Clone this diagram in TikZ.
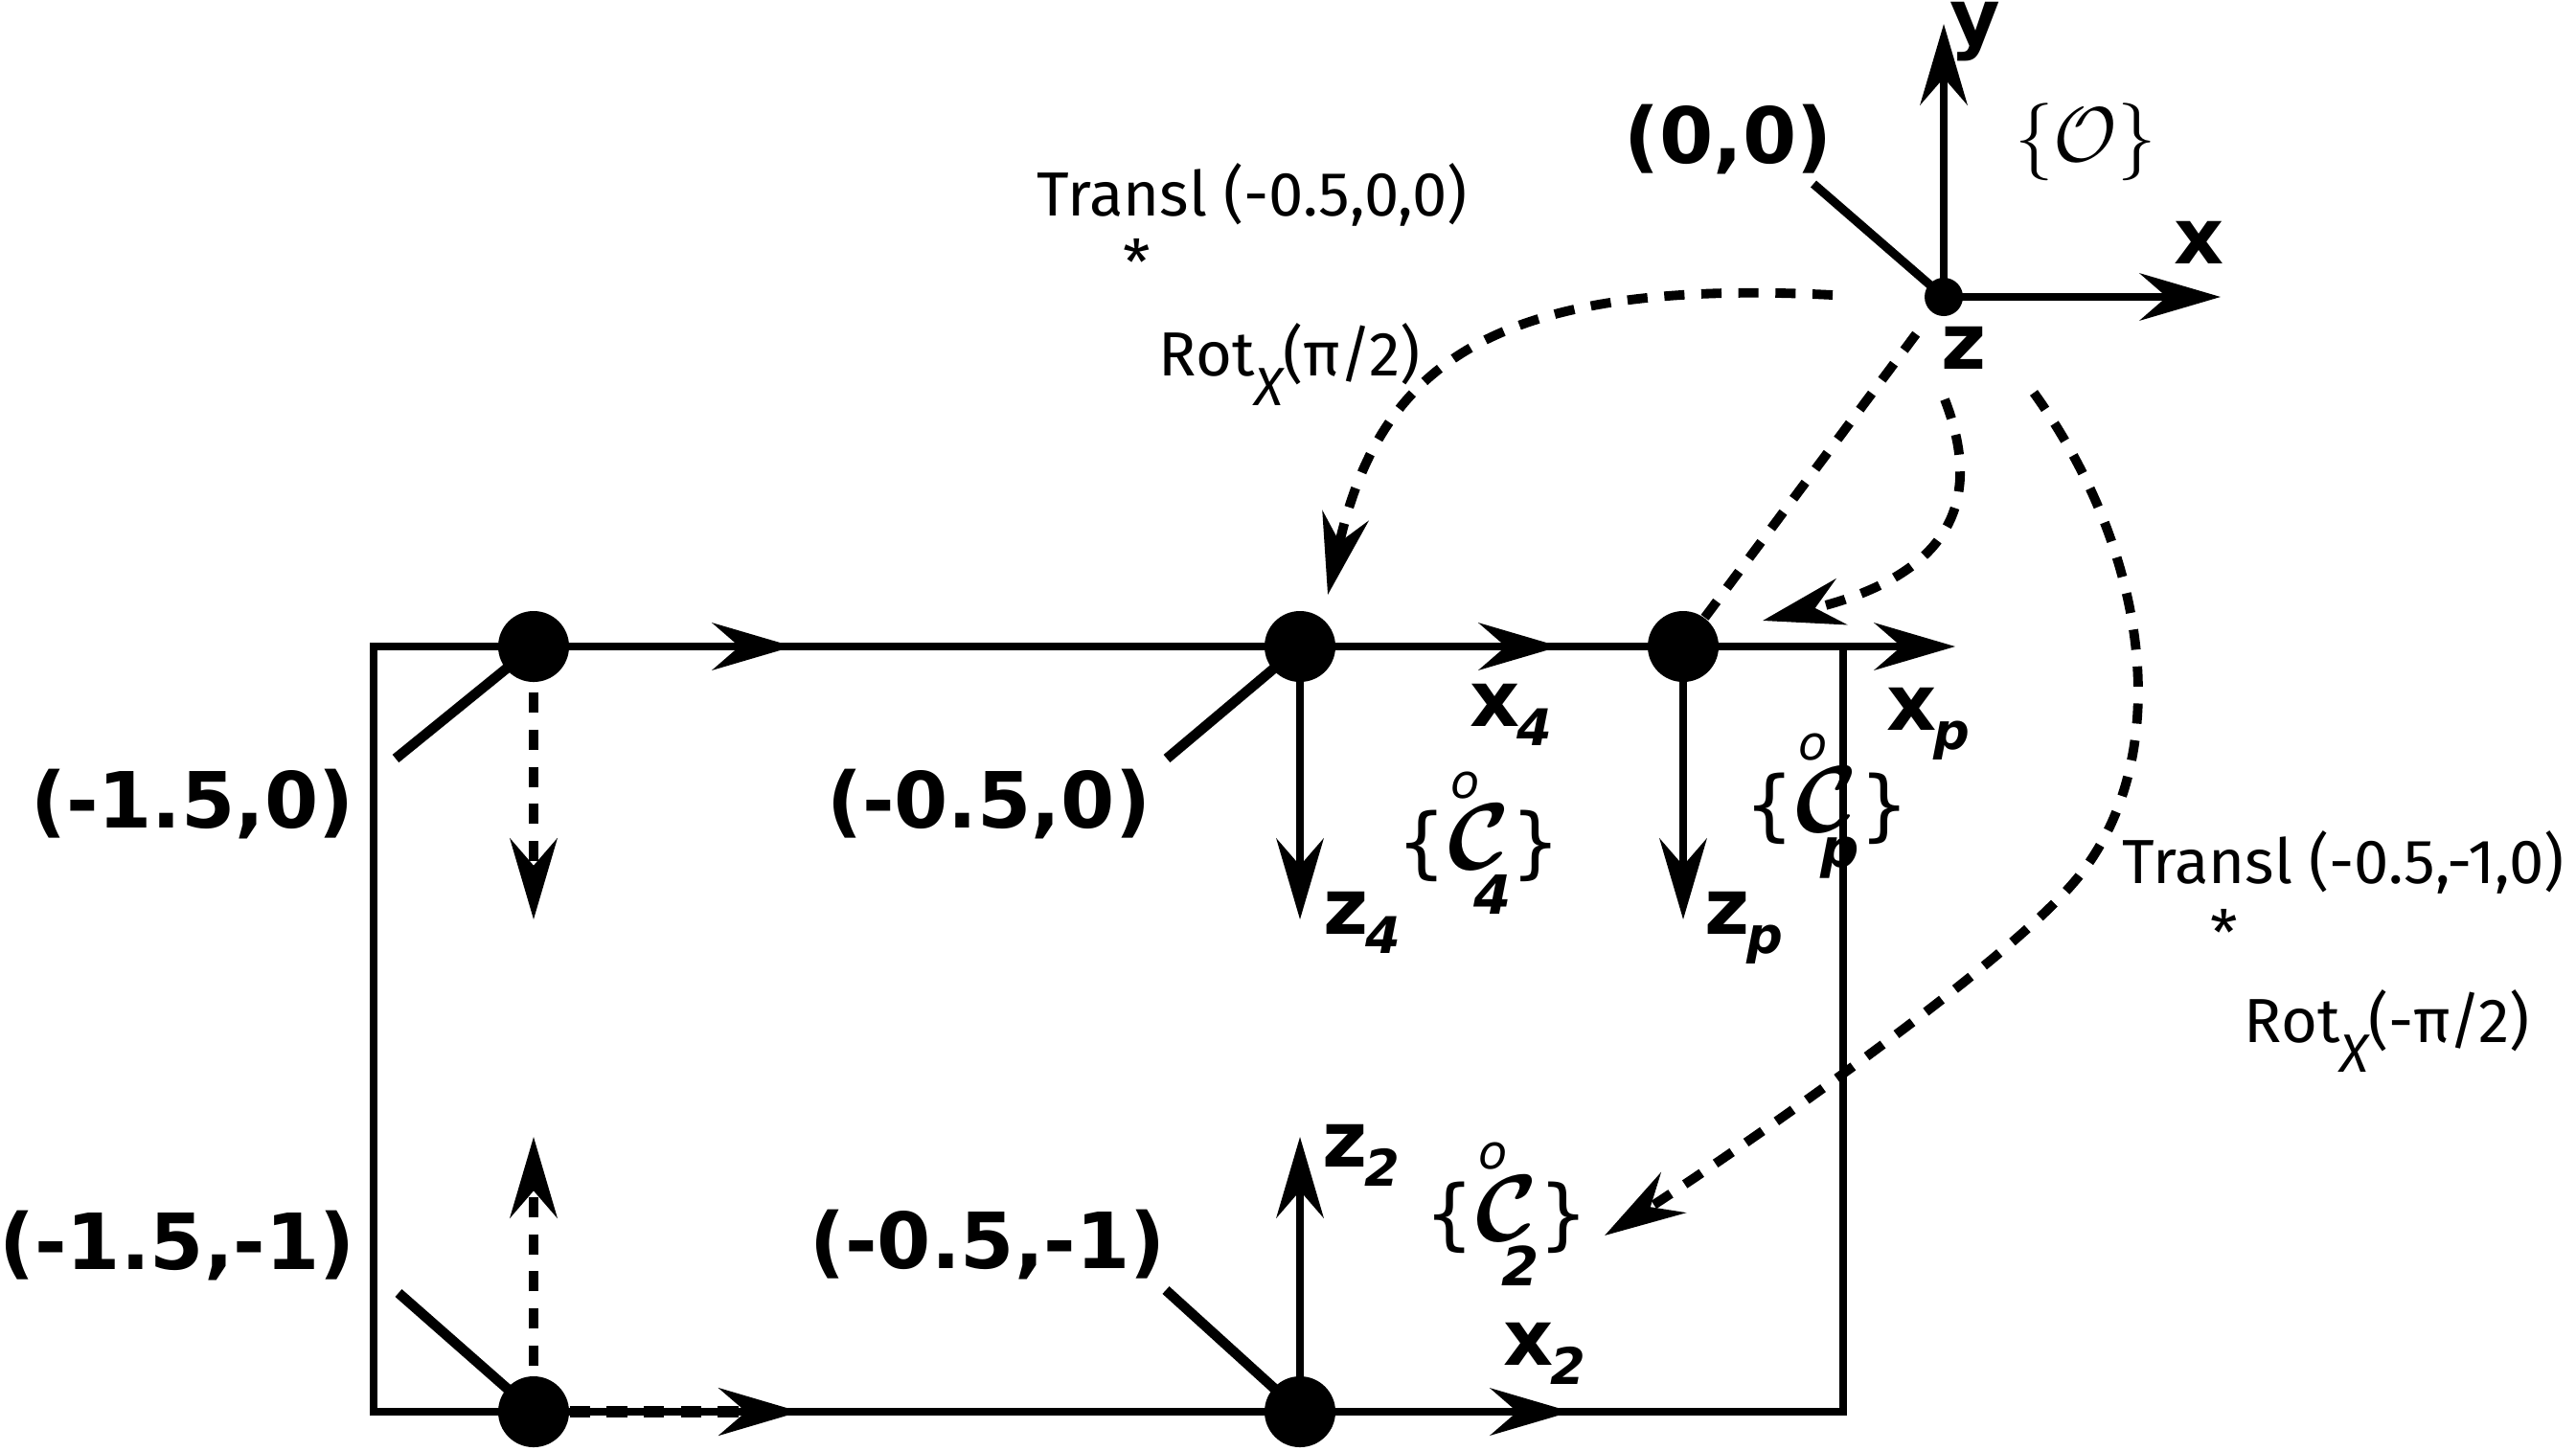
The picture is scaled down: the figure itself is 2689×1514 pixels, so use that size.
\RequirePackage{fix-cm}
\documentclass[tikz,border=0pt]{standalone}
\usepackage{fontspec}
\setmainfont{DejaVu Sans}
\newfontfamily\fira{Fira Sans}
\usetikzlibrary{arrows.meta,backgrounds}
\newcommand\sublbl[2]{{\bfseries #1\kern-1pt\raisebox{-5.7pt}{\fontsize{15}{15}\selectfont\bfseries\itshape #2}}}
\newcommand\cfr[1]{\mbox{\fontsize{23}{27}\selectfont\{$\mathop{\mbox{\fontsize{28}{28}\selectfont\boldmath$\mathcal{C}$}}\limits^{\mbox{\fontsize{14}{14}\selectfont\itshape o}\kern8pt}_{\kern8pt\mbox{\fontsize{16}{16}\selectfont\bfseries\itshape #1}}$\}}}
\newcommand\rotlbl[1]{{\fira Rot\raisebox{-9pt}{\fontsize{16}{16}\selectfont\itshape X}(#1)}}
\tikzset{
  tip/.tip={Stealth[length=24pt,width=14pt,inset=8pt]},
  ax/.style={line width=2.5pt,-tip},
  rectln/.style={line width=2.3pt,line join=miter},
  dsh/.style={line width=2.8pt,dash pattern=on 6pt off 5pt},
  dsharr/.style={dsh,-tip},
  stick/.style={line width=3pt},
  bigdot/.style={circle,fill=black,inner sep=0pt,minimum size=0.74cm},
  smalldot/.style={circle,fill=black,inner sep=0pt,minimum size=0.4cm},
  lbl/.style={font=\fontsize{23}{27}\selectfont\bfseries,inner sep=0pt},
  tr/.style={font=\fira\fontsize{18.5}{22}\selectfont,inner sep=0pt},
}
\begin{document}
\begin{tikzpicture}[x=0.01cm,y=-0.01cm]
\useasboundingbox (0,0) rectangle (2689,1514);
% dots
\node[bigdot] (A) at (557,675) {};
\node[bigdot] (B) at (1357,675) {};
\node[bigdot] (P) at (1757,675) {};
\node[bigdot] (C) at (557,1474) {};
\node[bigdot] (D) at (1357,1474) {};
\node[smalldot] (O) at (2029,310) {};
% free ends
\coordinate (tAx) at (828,675);
\coordinate (tAz) at (557,960);
\coordinate (tBx) at (1628,675);
\coordinate (tBz) at (1357,960);
\coordinate (tPx) at (2041,675);
\coordinate (tPz) at (1757,960);
\coordinate (tCx) at (835,1474);
\coordinate (tCz) at (557,1187);
\coordinate (tDx) at (1640,1474);
\coordinate (tDz) at (1357,1187);
\coordinate (tOx) at (2318,310);
\coordinate (tOy) at (2029,25);
\coordinate (sA) at (413,792);
\coordinate (sB) at (1218,792);
\coordinate (sC) at (416,1350);
\coordinate (sD) at (1217,1347);
\coordinate (sO) at (1893,192);
\coordinate (c1s) at (1913,308);
\coordinate (c1e) at (1386,621);
\coordinate (c2s) at (2030,417);
\coordinate (c2e) at (1840,648);
\coordinate (c4s) at (2123,410);
\coordinate (c4m) at (2170,915);
\coordinate (c4e) at (1675,1290);
\begin{pgfonlayer}{background}
\draw[rectln] (390,675) rectangle (1924,1474);
\draw[stick] (sA) -- (A.center);
\draw[stick] (sB) -- (B.center);
\draw[stick] (sC) -- (C.center);
\draw[stick] (sD) -- (D.center);
\draw[stick,line width=2.6pt] (sO) -- (O.center);
\draw[ax] (A.center) -- (tAx);
\draw[ax] (B.center) -- (tBx);
\draw[ax] (P.center) -- (tPx);
\draw[ax] (B.center) -- (tBz);
\draw[ax] (P.center) -- (tPz);
\draw[ax] (D.center) -- (tDz);
\draw[ax] (D.center) -- (tDx);
\draw[ax] (O.center) -- (tOx);
\draw[ax] (O.center) -- (tOy);
\draw[dsharr,shorten <=3pt] (A) -- (tAz);
\draw[dsharr,shorten <=3pt] (C) -- (tCz);
\draw[dsharr,line width=3.2pt] (C) -- (tCx);
\draw[dsh,shorten >=5pt] (P) -- (O);
\draw[dsharr] (c1s) .. controls (1560,290) and (1440,380) .. (c1e);
\draw[dsharr] (c2s) .. controls (2070,520) and (2040,600) .. (c2e);
\draw[dsharr] (c4s) .. controls (2245,580) and (2270,790) .. (c4m) .. controls (2090,1015) and (1760,1237) .. (c4e);
\end{pgfonlayer}
% coordinate labels
\node[lbl] (lA) at (201,840) {(-1.5,0)};
\node[lbl] (lB) at (1032,840) {(-0.5,0)};
\node[lbl] (lC) at (185,1301) {(-1.5,-1)};
\node[lbl] (lD) at (1031,1300) {(-0.5,-1)};
\node[lbl] (lO) at (1804,146) {(0,0)};
% axis labels
\node[lbl,anchor=base] (ly) at (2062,46) {y};
\node[lbl,anchor=base] (lx) at (2296,275) {x};
\node[lbl,anchor=base] (lz) at (2050,385) {z};
\node[lbl,anchor=base west] (lx4) at (1534,758) {\sublbl{x}{4}};
\node[lbl,anchor=base west] (lxp) at (1969,762) {\sublbl{x}{p}};
\node[lbl,anchor=base west] (lz4) at (1381,975) {\sublbl{z}{4}};
\node[lbl,anchor=base west] (lzp) at (1779,975) {\sublbl{z}{p}};
\node[lbl,anchor=base west] (lz2) at (1380,1218) {\sublbl{z}{2}};
\node[lbl,anchor=base west] (lx2) at (1569,1425) {\sublbl{x}{2}};
% frames
\node[inner sep=0pt] (fO) at (2177,148) {\fontsize{23}{27}\selectfont$\{\mathcal{O}\}$};
\node[inner sep=0pt] (f4) at (1544,880) {\cfr{4}};
\node[inner sep=0pt] (fp) at (1907,842) {\cfr{p}};
\node[inner sep=0pt] (f2) at (1573,1268) {\cfr{2}};
% transforms
\node[tr,anchor=base west] (t1) at (1082,225) {Transl (-0.5,0,0)};
\node[tr] (s1) at (1187,273) {*};
\node[tr,anchor=base west] (r1) at (1209,392) {\rotlbl{π/2}};
\node[tr,anchor=base west] (t2) at (2215,922) {Transl (-0.5,-1,0)};
\node[tr] (s2) at (2322,973) {*};
\node[tr,anchor=base west] (r2) at (2342,1088) {\rotlbl{-π/2}};
\end{tikzpicture}
\end{document}
